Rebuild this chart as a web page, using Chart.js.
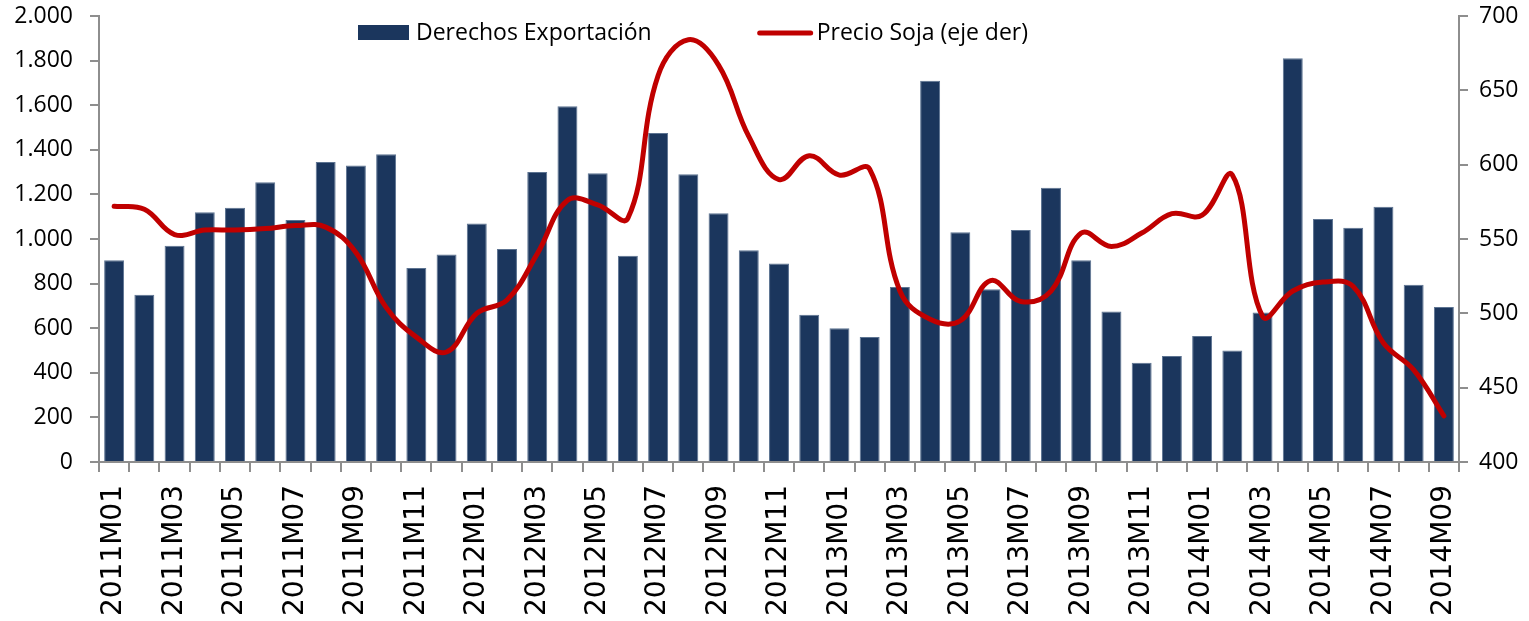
<!DOCTYPE html>
<html>
<head>
<meta charset="utf-8">
<script src="https://cdn.jsdelivr.net/npm/chart.js@4/dist/chart.umd.min.js"></script>
<style>
  body { margin: 0; background: #fff; }
  #wrap { width: 1529px; height: 621px; position: relative; }
</style>
</head>
<body>
<div id="wrap"><canvas id="sojaChart"></canvas></div>
<script>
const months = [
    '2011M01', '2011M02', '2011M03', '2011M04', '2011M05', '2011M06', '2011M07', '2011M08', '2011M09', '2011M10', '2011M11', '2011M12',
    '2012M01', '2012M02', '2012M03', '2012M04', '2012M05', '2012M06', '2012M07', '2012M08', '2012M09', '2012M10', '2012M11', '2012M12',
    '2013M01', '2013M02', '2013M03', '2013M04', '2013M05', '2013M06', '2013M07', '2013M08', '2013M09', '2013M10', '2013M11', '2013M12',
    '2014M01', '2014M02', '2014M03', '2014M04', '2014M05', '2014M06', '2014M07', '2014M08', '2014M09'
];
// Derechos de exportación (eje izq.)
const derechos = [
    905, 750, 970, 1120, 1140, 1255, 1085, 1345, 1330, 1380, 870, 930,
    1070, 955, 1300, 1595, 1295, 925, 1475, 1290, 1115, 950, 890, 660,
    600, 560, 785, 1710, 1030, 775, 1040, 1230, 905, 675, 445, 475,
    565, 500, 670, 1810, 1090, 1050, 1145, 795, 695
];
// Precio soja (eje der.)
const precioSoja = [
    572, 570, 553, 556, 556, 557, 559, 558, 541, 504, 484, 474,
    500, 509, 540, 576, 573, 564, 660, 684, 667, 619, 590, 606,
    593, 597, 515, 496, 495, 522, 508, 515, 554, 545, 554, 567,
    566, 593, 498, 515, 521, 518, 480, 462, 431
];
const leftTicks = ['0', '200', '400', '600', '800', '1.000', '1.200', '1.400', '1.600', '1.800', '2.000'];
const rightTicks = ['400', '450', '500', '550', '600', '650', '700'];

const axisGrey = '#8e8e8e';
const tickFont = { family: 'Open Sans', size: 23 };

// legend drawn inside the plot, like the original
const innerLegend = {
    id: 'innerLegend',
    afterDraw(chart) {
        const c = chart.ctx;
        const ds = chart.data.datasets;
        c.save();
        c.font = '23px "Open Sans"';
        c.textBaseline = 'middle';
        let x = 358;
        const y = 33;
        // bars
        c.fillStyle = ds[0].backgroundColor;
        c.fillRect(x, 25, 51, 15);
        c.fillStyle = '#000';
        c.fillText(ds[0].label, x + 58, y);
        x = x + 58 + c.measureText(ds[0].label).width + 106;
        // line
        c.strokeStyle = ds[1].borderColor;
        c.lineWidth = 5;
        c.lineCap = 'round';
        c.beginPath();
        c.moveTo(x + 2, y);
        c.lineTo(x + 53, y);
        c.stroke();
        c.fillText(ds[1].label, x + 59, y);
        c.restore();
    }
};

const ctx = document.getElementById('sojaChart').getContext('2d');
const sojaChart = new Chart(ctx, {
    type: 'bar',
    data: {
        labels: months,
        datasets: [{
            type: 'bar',
            label: 'Derechos Exportación',
            data: derechos,
            backgroundColor: '#1b365d',
            borderColor: '#5c7391',
            borderWidth: 1,
            barPercentage: 0.66,
            categoryPercentage: 1,
            yAxisID: 'y',
            order: 1
        }, {
            type: 'line',
            label: 'Precio Soja (eje der)',
            data: precioSoja,
            borderColor: '#c00000',
            backgroundColor: '#c00000',
            borderWidth: 5,
            borderCapStyle: 'round',
            tension: 0.4,
            pointRadius: 0,
            fill: false,
            yAxisID: 'y1',
            order: 0
        }]
    },
    options: {
        responsive: true,
        maintainAspectRatio: false,
        animation: false,
        layout: { padding: { top: 16, left: 0, right: 0, bottom: 0 } },
        scales: {
            x: {
                offset: true,
                grid: { display: true, drawOnChartArea: false, offset: true, tickLength: 10, color: axisGrey, lineWidth: 2 },
                border: { color: axisGrey, width: 2 },
                ticks: {
                    autoSkip: false,
                    maxRotation: 90,
                    minRotation: 90,
                    padding: 13,
                    color: '#000',
                    font: { family: 'DejaVu Sans', size: 28 },
                    callback: (v, i) => (i % 2 === 0 ? months[i] : '')
                },
                afterFit: (scale) => { scale.height = 159; }
            },
            y: {
                position: 'left',
                min: 0,
                max: 2000,
                grid: { display: true, drawOnChartArea: false, tickLength: 9, color: axisGrey, lineWidth: 2 },
                border: { color: axisGrey, width: 2 },
                ticks: {
                    stepSize: 200,
                    padding: 17,
                    color: '#000',
                    font: tickFont,
                    callback: (v, i) => leftTicks[i]
                },
                afterFit: (scale) => { scale.width = 99; scale.paddingTop = 0; }
            },
            y1: {
                position: 'right',
                min: 400,
                max: 700,
                grid: { display: true, drawOnChartArea: false, tickLength: 9, color: axisGrey, lineWidth: 2 },
                border: { color: axisGrey, width: 2 },
                ticks: {
                    stepSize: 50,
                    padding: 11,
                    color: '#000',
                    font: tickFont,
                    callback: (v, i) => rightTicks[i]
                },
                afterFit: (scale) => { scale.width = 70; scale.paddingTop = 0; }
            }
        },
        plugins: {
            legend: { display: false },
            tooltip: { enabled: true }
        }
    },
    plugins: [innerLegend]
});
</script>
</body>
</html>
